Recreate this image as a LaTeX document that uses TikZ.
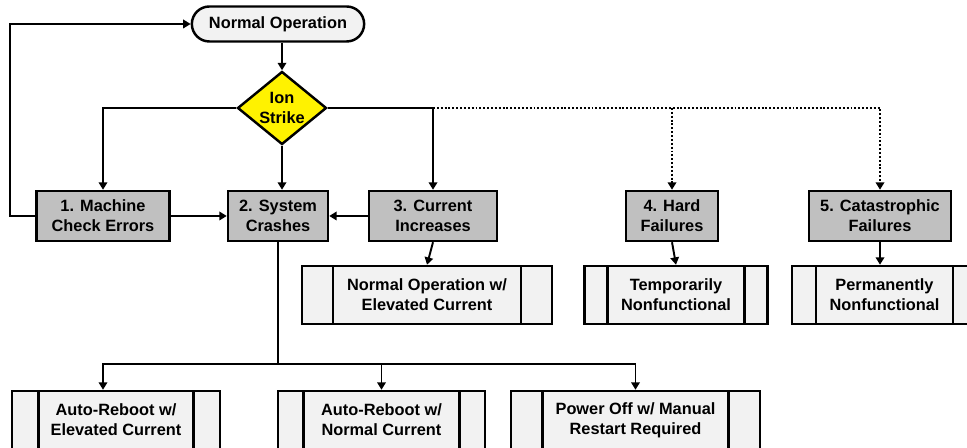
\documentclass[tikz,border=0pt]{standalone}
\usepackage{fontspec}
\setmainfont{Liberation Sans}
\usetikzlibrary{shapes.geometric,shapes.misc,arrows.meta}
\definecolor{boxgray}{RGB}{192,192,192}
\definecolor{lightfill}{RGB}{242,242,242}
\tikzset{
  every node/.style={font=\fontsize{9.3pt}{11.4pt}\selectfont\bfseries, align=center},
  stagebox/.style={draw, fill=boxgray, line width=1.4pt, minimum height=1cm, inner sep=0pt},
  predef/.style={draw, fill=lightfill, line width=1.4pt, minimum height=1.16cm, inner sep=0pt,
    path picture={\draw[line width=1.3pt]
      ([xshift=#1]path picture bounding box.north west) -- ([xshift=#1]path picture bounding box.south west)
      ([xshift=-#1]path picture bounding box.north east) -- ([xshift=-#1]path picture bounding box.south east);}},
  arr/.style={-{Triangle[width=4.8pt,length=4.2pt]}, line width=1.1pt},
  dotarr/.style={arr, dash pattern=on 1.1pt off 1.1pt},
}
\begin{document}
\begin{tikzpicture}
        \clip (0,0) rectangle (19.34,8.96);
        \node[rounded rectangle, draw, fill=lightfill, line width=1.4pt, minimum width=3.68cm, minimum height=0.7cm] (normal) at (5.56,8.48) {Normal Operation};
        \node[diamond, draw, fill=yellow, line width=1.4pt, minimum width=1.78cm, minimum height=1.46cm, inner sep=0pt, aspect=1.2] (ion) at (5.64,6.80) {Ion\\Strike};

        \node[stagebox, minimum width=2.66cm] (mce) at (2.06,4.64) {1. Machine\\Check Errors};
        \node[stagebox, minimum width=2.0cm] (sys) at (5.56,4.64) {2. System\\Crashes};
        \node[stagebox, minimum width=2.56cm] (curr) at (8.66,4.64) {3. Current\\Increases};
        \node[stagebox, minimum width=1.84cm] (hard) at (13.44,4.64) {4. Hard\\Failures};
        \node[stagebox, minimum width=2.84cm] (cata) at (17.6,4.64) {5. Catastrophic\\Failures};

        \node[predef=0.62cm, minimum width=5.0cm] (elev) at (8.54,3.06) {Normal Operation w/\\Elevated Current};
        \node[predef=0.46cm, minimum width=3.66cm] (temp) at (13.52,3.06) {Temporarily\\Nonfunctional};
        \node[predef=0.48cm, minimum width=3.70cm] (perm) at (17.69,3.06) {Permanently\\Nonfunctional};

        \node[predef=0.53cm, minimum width=4.16cm] (rebootelev) at (2.32,0.56) {Auto-Reboot w/\\Elevated Current};
        \node[predef=0.51cm, minimum width=4.14cm] (rebootnorm) at (7.63,0.56) {Auto-Reboot w/\\Normal Current};
        \node[predef=0.63cm, minimum width=4.98cm] (poweroff) at (12.71,0.56) {Power Off w/ Manual\\Restart Required};

        \coordinate (bus) at (5.56,1.68);

        \draw[arr] (normal.south -| ion.north) -- (ion.north);
        \draw[arr] (ion.west) -| (mce.north);
        \draw[arr] (ion.south) -- (ion.south |- sys.north);
        \draw[arr] (ion.east) -| (curr.north);
        \draw[dotarr] (ion.east -| curr.north) -| (cata.north);
        \draw[dotarr] (ion.east -| hard.north) -- (hard.north);

        \draw[arr] (mce.west) -- ++(-0.5,0) |- (normal.west);
        \draw[arr] (mce.east) -- (sys.west);
        \draw[arr] (curr.west) -- (sys.east);

        \draw[arr] (curr.south) -- (elev.north);
        \draw[arr] (hard.south) -- (temp.north);
        \draw[arr] (cata.south) -- (cata.south |- perm.north);

        \draw[line width=1.1pt] (sys.south) -- (bus);
        \draw[arr] (bus) -| (mce |- rebootelev.north);
        \draw[arr] (bus) -| (rebootnorm.north);
        \draw[arr] (bus) -| (poweroff.north);
\end{tikzpicture}
\end{document}
